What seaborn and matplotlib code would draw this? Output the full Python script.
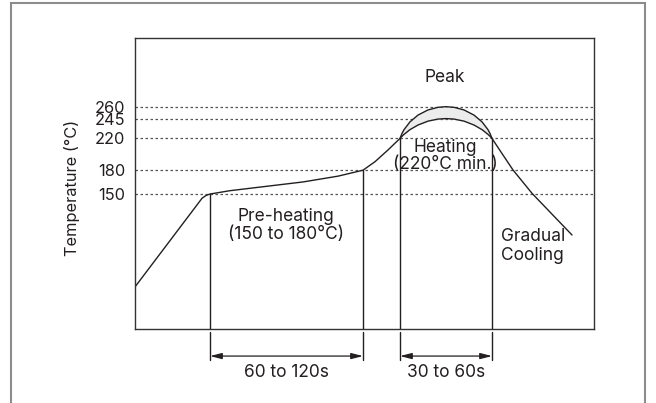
import matplotlib
matplotlib.use("Agg")
import matplotlib.pyplot as plt
import seaborn as sns
import numpy as np
import pandas as pd
from matplotlib.patches import Rectangle

# reflow profile (schematic time units, temperature in deg C)
profile_time = [0, 67, 71, 75, 95, 168, 203, 228, 240, 253,
                265, 267, 269, 275, 283, 293, 303, 311, 319, 329, 339, 347, 353, 355, 357,
                367, 378, 397, 437]
profile_temp = [33, 144.6, 148.2, 150, 154.2, 165.2, 172.5, 180, 190.7, 205.5,
                220, 222.7, 225.1, 231.1, 236.9, 241.8, 244.4, 245, 244.4, 241.8, 236.9, 231.1, 225.1, 222.7, 220,
                201, 180.3, 150.9, 98.4]

# upper (peak 260) arc over the heating zone
peak_time = [265, 267, 269, 275, 283, 293, 303, 311, 319, 329, 339, 347, 353, 355, 357]
peak_upper = [220, 226.3, 231, 240.9, 249.4, 255.9, 259.2, 260, 259.2, 255.9, 249.4, 240.9, 231, 226.3, 220]
peak_lower = [220, 222.7, 225.1, 231.1, 236.9, 241.8, 244.4, 245, 244.4, 241.8, 236.9, 231.1, 225.1, 222.7, 220]

temp_ticks = [150, 180, 220, 245, 260]

# zone boundaries: (time, temperature where the curve crosses)
preheat_start, preheat_end = (75, 150), (228, 180)
heat_start, heat_end = (265, 220), (357, 220)

ink = "#231f20"
fs = 12.5
sns.set_style("white")
plt.rcParams["font.family"] = ["Inter", "DejaVu Sans"]

fig = plt.figure(figsize=(6.56, 4.03), dpi=100)
ax = fig.add_axes([135 / 656, 1 - 329 / 403, 459 / 656, 291 / 403])

df = pd.DataFrame({"time": profile_time, "temp": profile_temp})
ax.fill_between(peak_time, peak_lower, peak_upper, color="#ececec", lw=0, zorder=1)
sns.lineplot(data=df, x="time", y="temp", sort=False, estimator=None,
             color=ink, lw=1.0, ax=ax)
sns.lineplot(x=peak_time, y=peak_upper, sort=False, estimator=None,
             color=ink, lw=1.0, ax=ax)

ax.set_xlim(0, 459)
ax.set_ylim(-20, 346.5)
ax.set_yticks(temp_ticks)
ax.set_yticklabels([str(t) for t in temp_ticks])
ax.set_xticks([])
ax.tick_params(axis="y", length=0, pad=7, labelsize=11.8, labelcolor=ink)
ax.yaxis.grid(True, linestyle=(0, (2, 2)), color="#555555", lw=0.9)
ax.set_axisbelow(True)
ax.set_xlabel("")
ax.set_ylabel("Temperature (°C)", fontsize=11.8, color=ink)
ax.yaxis.set_label_coords(-0.12, 0.485)
for s in ax.spines.values():
    s.set_color("#333333")
    s.set_linewidth(1.0)

# zone boundary lines, continuing below the axes
trans = ax.get_xaxis_transform()
for t, temp in [preheat_start, preheat_end, heat_start, heat_end]:
    ax.plot([t, t], [temp, ax.get_ylim()[0]], color=ink, lw=1.0)
    ax.plot([t, t], [-0.01, -0.107], color=ink, lw=1.0, transform=trans, clip_on=False)

for (a, _), (b, _), label in [(preheat_start, preheat_end, "60 to 120s"),
                              (heat_start, heat_end, "30 to 60s")]:
    ax.annotate("", xy=(a, -0.093), xytext=(b, -0.093), xycoords=trans, textcoords=trans,
                arrowprops=dict(arrowstyle="<|-|>,head_length=0.7,head_width=0.18",
                                mutation_scale=10, color=ink, lw=0.9,
                                shrinkA=0, shrinkB=0), annotation_clip=False)
    ax.text((a + b) / 2, -0.148, label, transform=trans, ha="center", va="center",
            fontsize=fs, color=ink, clip_on=False)

ax.text(310, 297, "Peak", ha="center", va="center", fontsize=fs, color=ink)
ax.text(310, 208, "Heating", ha="center", va="center", fontsize=fs, color=ink)
ax.text(310, 187, "(220°C min.)", ha="center", va="center", fontsize=fs, color=ink)
ax.text(151, 122, "Pre-heating", ha="center", va="center", fontsize=fs, color=ink)
ax.text(151, 99, "(150 to 180°C)", ha="center", va="center", fontsize=fs, color=ink)
ax.text(366, 97, "Gradual", ha="left", va="center", fontsize=fs, color=ink)
ax.text(366, 73, "Cooling", ha="left", va="center", fontsize=fs, color=ink)

fig.patches.append(Rectangle((11 / 656, -0.05), 634 / 656, 1 - 3 / 403 + 0.05,
                             transform=fig.transFigure, fill=False,
                             edgecolor="#8c8c8c", lw=1.5))

fig.savefig("out.png", dpi=100)
